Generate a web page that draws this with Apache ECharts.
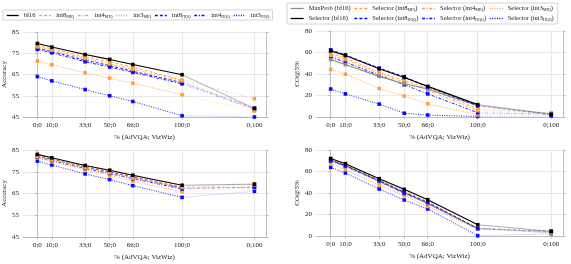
<!DOCTYPE html>
<html><head><meta charset="utf-8">
<script src="https://cdn.jsdelivr.net/npm/echarts@6/dist/echarts.min.js"></script>
<style>html,body{margin:0;padding:0;background:#fff}#c{width:571px;height:264px}</style>
</head><body><div id="c"></div>
<script>
// x positions and tick labels (AdVQA; VizWiz)
const xPos = [0, 10, 33, 50, 66, 100, 150];
const xLabels = ['0;0', '10;0', '33;0', '50;0', '66;0', '100;0', '0;100'];
const accTicks = [45, 55, 65, 75, 85];
const coTicks = [0, 20, 40, 60, 80];

// Top-left: Accuracy
const accTop_bf16    = [79.6, 77.9, 74.4, 72.1, 69.7, 64.9, 49.0];
const accTop_int8MIQ = [78.6, 77.1, 73.3, 71.0, 68.4, 62.4, 53.6];
const accTop_int4MIQ = [78.0, 76.4, 72.5, 70.0, 67.4, 62.0, 48.3];
const accTop_int3MIQ = [71.3, 69.6, 65.8, 63.3, 60.9, 55.5, 47.8];
const accTop_int8HQQ = [77.3, 75.8, 71.7, 69.2, 66.5, 61.2, 49.2];
const accTop_int4HQQ = [76.8, 75.2, 71.0, 68.5, 66.0, 60.6, 48.6];
const accTop_int3HQQ = [64.0, 62.0, 57.9, 55.0, 52.3, 45.6, 45.0];

// Bottom-left: Accuracy
const accBot_bf16    = [83.0, 81.4, 77.9, 75.7, 73.4, 68.8, 69.3];
const accBot_int8MIQ = [82.6, 81.0, 77.4, 75.2, 72.9, 68.3, 69.4];
const accBot_int4MIQ = [82.0, 80.4, 76.8, 74.5, 72.1, 67.8, 69.0];
const accBot_int3MIQ = [81.4, 79.6, 75.9, 73.4, 70.6, 65.8, 67.5];
const accBot_int8HQQ = [82.4, 80.8, 77.2, 74.9, 72.6, 67.6, 67.8];
const accBot_int4HQQ = [81.8, 80.2, 76.5, 74.2, 71.8, 67.1, 68.0];
const accBot_int3HQQ = [79.9, 78.1, 74.0, 71.4, 68.6, 63.2, 66.0];

// Top-right: CO@5%
const coTop_maxprob = [53.5, 48.8, 37.8, 31.0, 26.0, 10.5, 3.0];
const coTop_bf16    = [61.5, 57.2, 44.8, 36.8, 28.5, 11.5, 2.5];
const coTop_int8MIQ = [59.0, 55.0, 41.5, 34.0, 26.5, 8.0, 3.5];
const coTop_int8HQQ = [62.5, 57.8, 45.5, 37.5, 28.0, 10.5, 2.0];
const coTop_int4MIQ = [57.5, 53.5, 40.0, 32.5, 25.0, 6.0, 4.0];
const coTop_int4HQQ = [55.8, 51.0, 38.8, 30.0, 21.5, 4.0, 2.5];
const coTop_int3MIQ = [44.3, 39.8, 26.5, 19.5, 12.3, 2.0, 4.0];
const coTop_int3HQQ = [26.0, 21.5, 12.0, 3.5, 1.8, 0.5, 1.0];

// Bottom-right: CO@5%
const coBot_maxprob = [70.5, 65.5, 51.0, 40.5, 30.0, 7.0, 3.0];
const coBot_bf16    = [72.0, 67.3, 53.3, 43.4, 33.8, 10.5, 4.3];
const coBot_int8MIQ = [72.2, 67.0, 52.5, 42.0, 32.0, 7.2, 4.0];
const coBot_int8HQQ = [70.5, 65.5, 51.5, 40.5, 31.3, 7.0, 4.5];
const coBot_int4MIQ = [71.0, 66.2, 51.5, 41.0, 30.5, 7.0, 3.5];
const coBot_int4HQQ = [69.8, 64.8, 50.8, 39.6, 30.5, 6.8, 4.0];
const coBot_int3MIQ = [67.0, 61.7, 47.4, 37.5, 27.5, 6.5, 2.8];
const coBot_int3HQQ = [63.8, 58.6, 43.7, 33.5, 25.1, 0.3, 2.1];

const ORANGE = '#FFA040', BLUE = '#0a0aff', BLACK = '#000', GRAY = '#8a8a8a';
const DASH = [3, 2], DASHDOT = [3, 1.6, 1, 1.6], DOT = [1, 1.4];
const FONT = 'Liberation Serif';

const styles = {
  bf16: [BLACK, 'solid'], maxprob: [GRAY, 'solid'],
  int8MIQ: [ORANGE, DASH], int4MIQ: [ORANGE, DASHDOT], int3MIQ: [ORANGE, DOT],
  int8HQQ: [BLUE, DASH], int4HQQ: [BLUE, DASHDOT], int3HQQ: [BLUE, DOT]
};

function makeSeries(name, key, vals, gi) {
  const [color, type] = styles[key];
  const main = vals.slice(0, 6).map((v, i) => [xPos[i], v]);
  const tail = [{ value: [xPos[5], vals[5]], symbol: 'none' }, [xPos[6], vals[6]]];
  const common = {
    name, type: 'line', xAxisIndex: gi, yAxisIndex: gi * 2, symbol: 'rect', symbolSize: 3.6,
    color, itemStyle: { color }, animation: false, silent: true
  };
  return [
    Object.assign({}, common, { data: main, lineStyle: { color, width: key === 'bf16' || key === 'maxprob' ? 1.1 : 0.9, type } }),
    Object.assign({}, common, { data: tail, lineStyle: { color, width: 0.9, type, opacity: 0.35 } })
  ];
}

const grids = [
  { left: 21, top: 32, width: 245, height: 85 },
  { left: 21, top: 150, width: 245, height: 87 },
  { left: 316, top: 31, width: 247, height: 86 },
  { left: 316, top: 150, width: 247, height: 86 }
];

const axisLineCol = '#b0b0b0', gridCol = '#e2e2e2';
const xAxes = grids.map((g, i) => ({
  type: 'value', gridIndex: i, min: -10, max: 158,
  name: '% (AdVQA; VizWiz)', nameLocation: 'middle', nameGap: 17,
  nameTextStyle: { fontFamily: FONT, fontSize: 7, color: '#222' },
  axisLine: { show: true, onZero: false, lineStyle: { color: axisLineCol, width: 0.8 } },
  axisTick: { show: true, length: 2.5, customValues: xPos, lineStyle: { color: axisLineCol, width: 0.8 } },
  axisLabel: { customValues: xPos, fontFamily: FONT, fontSize: 7, color: '#222', margin: 5,
    formatter: v => xLabels[xPos.indexOf(v)] },
  splitLine: { show: true, lineStyle: { color: gridCol, width: 0.8 } }
}));

const yAxes = [];
grids.forEach((g, i) => {
  const isAcc = i < 2;
  const ticks = isAcc ? accTicks : coTicks;
  const base = {
    type: 'value', gridIndex: i, min: ticks[0], max: ticks[ticks.length - 1], interval: ticks[1] - ticks[0],
    axisLine: { show: true, lineStyle: { color: axisLineCol, width: 0.8 } },
    axisTick: { show: true, length: 2.5, lineStyle: { color: axisLineCol, width: 0.8 } }
  };
  yAxes.push(Object.assign({}, base, {
    position: 'left',
    name: isAcc ? 'Accuracy' : 'CO@5%', nameLocation: 'middle', nameGap: isAcc ? 13 : 10,
    nameTextStyle: { fontFamily: FONT, fontSize: 7, color: '#222' },
    axisLabel: { fontFamily: FONT, fontSize: 7, color: '#222', margin: 4 },
    splitLine: { show: true, lineStyle: { color: gridCol, width: 0.8 } }
  }));
  yAxes.push(Object.assign({}, base, {
    position: 'right', axisLabel: { show: false }, splitLine: { show: false }
  }));
});

let series = [];
const leftKeys = [['bf16', 'bf16'], ['int8_MIQ', 'int8MIQ'], ['int4_MIQ', 'int4MIQ'], ['int3_MIQ', 'int3MIQ'],
                  ['int8_HQQ', 'int8HQQ'], ['int4_HQQ', 'int4HQQ'], ['int3_HQQ', 'int3HQQ']];
const accTop = { bf16: accTop_bf16, int8MIQ: accTop_int8MIQ, int4MIQ: accTop_int4MIQ, int3MIQ: accTop_int3MIQ,
                 int8HQQ: accTop_int8HQQ, int4HQQ: accTop_int4HQQ, int3HQQ: accTop_int3HQQ };
const accBot = { bf16: accBot_bf16, int8MIQ: accBot_int8MIQ, int4MIQ: accBot_int4MIQ, int3MIQ: accBot_int3MIQ,
                 int8HQQ: accBot_int8HQQ, int4HQQ: accBot_int4HQQ, int3HQQ: accBot_int3HQQ };
// draw order: lighter ones first, bf16 on top
const leftOrder = ['int3HQQ', 'int3MIQ', 'int4HQQ', 'int8HQQ', 'int4MIQ', 'int8MIQ', 'bf16'];
leftOrder.forEach(k => {
  const nm = leftKeys.find(p => p[1] === k)[0];
  series = series.concat(makeSeries(nm, k, accTop[k], 0));
  series = series.concat(makeSeries(nm, k, accBot[k], 1));
});

const rightKeys = [['MaxProb (bf16)', 'maxprob'], ['Selector (bf16)', 'bf16'],
                   ['Selector (int8_MIQ)', 'int8MIQ'], ['Selector (int8_HQQ)', 'int8HQQ'],
                   ['Selector (int4_MIQ)', 'int4MIQ'], ['Selector (int4_HQQ)', 'int4HQQ'],
                   ['Selector (int3_MIQ)', 'int3MIQ'], ['Selector (int3_HQQ)', 'int3HQQ']];
const coTop = { maxprob: coTop_maxprob, bf16: coTop_bf16, int8MIQ: coTop_int8MIQ, int8HQQ: coTop_int8HQQ,
                int4MIQ: coTop_int4MIQ, int4HQQ: coTop_int4HQQ, int3MIQ: coTop_int3MIQ, int3HQQ: coTop_int3HQQ };
const coBot = { maxprob: coBot_maxprob, bf16: coBot_bf16, int8MIQ: coBot_int8MIQ, int8HQQ: coBot_int8HQQ,
                int4MIQ: coBot_int4MIQ, int4HQQ: coBot_int4HQQ, int3MIQ: coBot_int3MIQ, int3HQQ: coBot_int3HQQ };
const rightOrder = ['int3HQQ', 'int3MIQ', 'int4HQQ', 'int4MIQ', 'int8MIQ', 'maxprob', 'int8HQQ', 'bf16'];
rightOrder.forEach(k => {
  const nm = rightKeys.find(p => p[1] === k)[0];
  series = series.concat(makeSeries(nm, k, coTop[k], 2));
  series = series.concat(makeSeries(nm, k, coBot[k], 3));
});

const legendText = {
  fontFamily: FONT, fontSize: 6.5, color: '#222',
  rich: { s: { fontFamily: FONT, fontSize: 4, color: '#222', padding: [3, 0, 0, 0] } }
};
const fmt = n => n.replace(/_(\w+)/, '{s|$1}');
const legendLine = { width: 1.3, color: 'inherit', type: 'inherit', opacity: 'inherit',
                     dashOffset: 'inherit', cap: 'inherit', join: 'inherit' };

const option = {
  backgroundColor: '#fff',
  animation: false,
  grid: grids,
  xAxis: xAxes,
  yAxis: yAxes,
  legend: [
    {
      data: leftKeys.map(p => p[0]), left: 3, top: 10, orient: 'horizontal',
      itemWidth: 12, itemHeight: 5, itemGap: 3, padding: [2, 3, 1, 3],
      borderColor: '#c8c8c8', borderWidth: 0.8, borderRadius: 0,
      lineStyle: legendLine,
      itemStyle: { opacity: 0 }, textStyle: legendText, formatter: fmt, selectedMode: false
    },
    {
      data: rightKeys.map(p => p[0]), left: 287, top: 3, orient: 'vertical', height: 18,
      itemWidth: 13, itemHeight: 5, itemGap: 3, padding: [2, 4, 2, 3],
      borderColor: '#c8c8c8', borderWidth: 0.8, borderRadius: 0,
      lineStyle: legendLine,
      itemStyle: { opacity: 0 }, textStyle: legendText, formatter: fmt, selectedMode: false
    }
  ],
  series
};
const chart = echarts.init(document.getElementById('c'), null, { renderer: 'canvas' });
chart.setOption(option);
</script></body></html>
